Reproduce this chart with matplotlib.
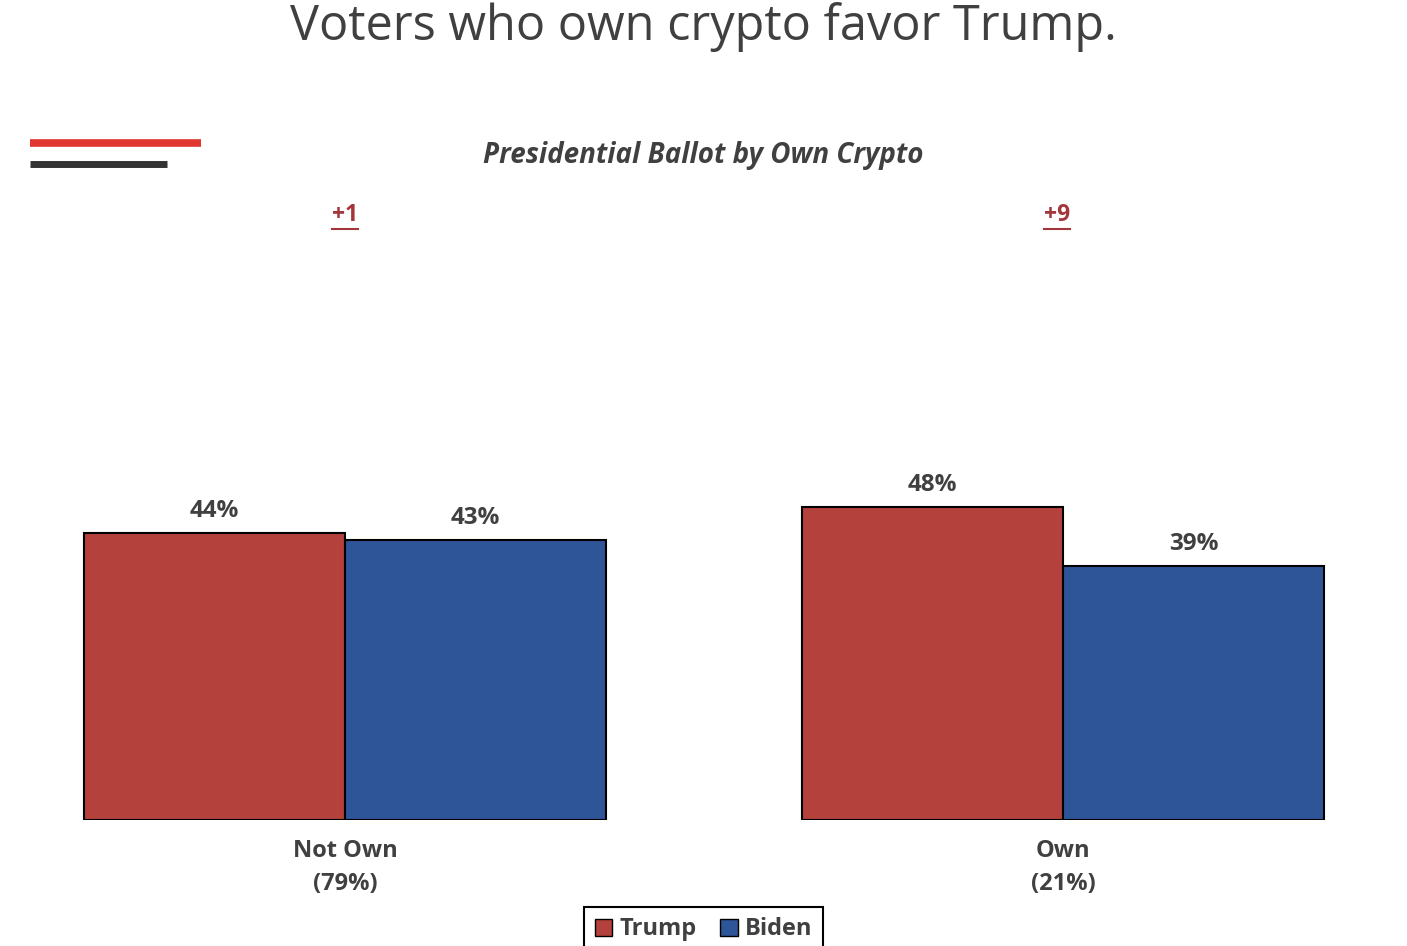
import numpy as np
import matplotlib.pyplot as plt
from matplotlib.lines import Line2D
from matplotlib.patches import Patch

plt.rcParams['font.family'] = ['Open Sans', 'DejaVu Sans']

# data
groups = ['Not Own\n(79%)', 'Own\n(21%)']
trump = [44, 48]
biden = [43, 39]
margins = ['+1', '+9']

red = '#B4413C'
blue = '#2E5597'
grey = '#404040'

fig = plt.figure(figsize=(14.07, 9.46), dpi=100)
ax = fig.add_axes([0, 0.1332, 1, 0.6547])

x = np.arange(len(groups))
w = 0.3635
b1 = ax.bar(x - w / 2, trump, w, color=red, edgecolor='black', linewidth=1.5, label='Trump')
b2 = ax.bar(x + w / 2, biden, w, color=blue, edgecolor='black', linewidth=1.5, label='Biden')

ax.set_xlim(-0.4805, 1.479)
ax.set_ylim(0, 95)
for s in ax.spines.values():
    s.set_visible(False)
ax.set_yticks([])
ax.set_xticks(x)
ax.set_xticklabels(groups, fontsize=17, color=grey, fontweight='bold', linespacing=1.45)
ax.tick_params(axis='x', length=0, pad=14)

for bars in (b1, b2):
    for r, v in zip(bars, [r.get_height() for r in bars]):
        ax.annotate(f'{v}%', (r.get_x() + r.get_width() / 2, v), xytext=(0, 7),
                    textcoords='offset points', ha='center', va='bottom',
                    fontsize=17.5, fontweight='bold', color=grey)

# margin labels, underlined
mtexts = []
for xi, m in zip(x, margins):
    t = ax.text(xi, 1 - 15 / 654, m, transform=ax.get_xaxis_transform(), ha='center', va='center',
                fontsize=16.5, fontweight='bold', color='#A3363B')
    mtexts.append(t)
mtexts[1].set_x(mtexts[1].get_position()[0] - 0.008)

fig.text(0.5, 1 - 27 / 946, 'Voters who own crypto favor Trump.', ha='center', va='center',
         fontsize=35, color=grey)
fig.text(0.5, 1 - 155 / 946, 'Presidential Ballot by Own Crypto', ha='center', va='center',
         fontsize=20, fontweight='bold', fontstyle='italic', color=grey)

# decorative lines top-left
fig.add_artist(Line2D([30 / 1407, 201 / 1407], [1 - 143 / 946] * 2, color='#E03530', lw=5.5,
                      solid_capstyle='butt'))
fig.add_artist(Line2D([30 / 1407, 167 / 1407], [1 - 164 / 946] * 2, color='#333333', lw=5,
                      solid_capstyle='butt'))

leg = fig.legend(handles=[Patch(facecolor=red, edgecolor='black', label='Trump'),
                          Patch(facecolor=blue, edgecolor='black', label='Biden')],
                 loc='upper center', bbox_to_anchor=(0.5, 1 - 895 / 946), ncol=2,
                 fancybox=False, edgecolor='black', framealpha=1,
                 prop={'size': 17, 'weight': 'bold'}, handlelength=0.75, handleheight=0.75,
                 handletextpad=0.3, columnspacing=1.0, borderpad=0.45)
leg.get_frame().set_linewidth(1.5)
for t in leg.get_texts():
    t.set_color(grey)

# underline the margin labels
fig.canvas.draw()
inv = fig.transFigure.inverted()
for t in mtexts:
    bb = t.get_window_extent()
    (x0, y0), (x1, _) = inv.transform([(bb.x0, bb.y0), (bb.x1, bb.y1)])
    fig.add_artist(Line2D([x0, x1], [y0 - 0.002] * 2, color='#A3363B', lw=1.5))

fig.savefig('out.png', dpi=100)
